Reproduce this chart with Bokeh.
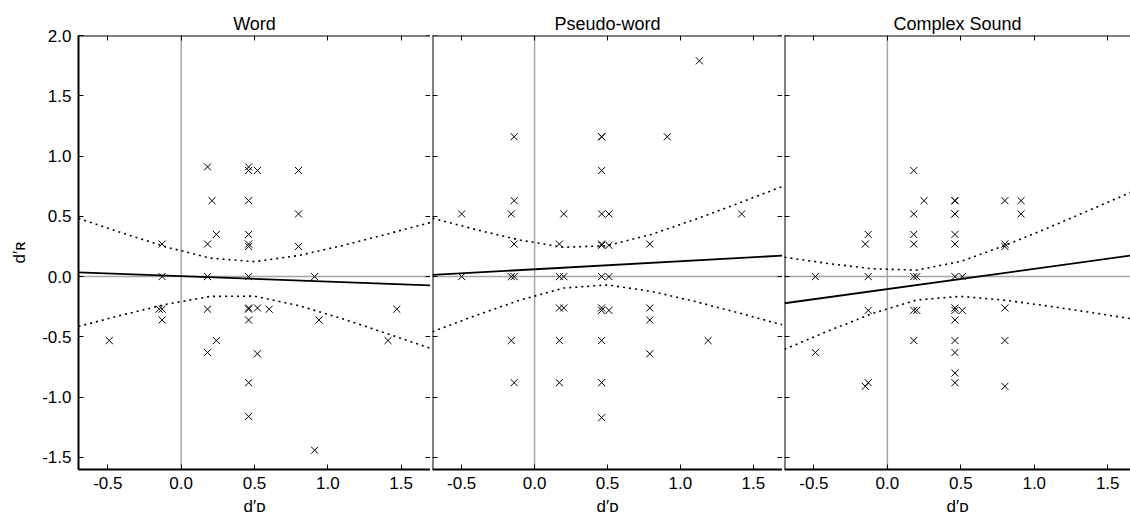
from bokeh.plotting import figure
from bokeh.models import LinearAxis, FixedTicker, NumeralTickFormatter, Span, Range1d, Title
from bokeh.layouts import row
from bokeh.embed import file_html
from bokeh.resources import INLINE

# ---------------- data ----------------
titles = ["Word", "Pseudo-word", "Complex Sound"]
x_ticks = [-0.5, 0.0, 0.5, 1.0, 1.5]
y_ticks = [-1.5, -1.0, -0.5, 0.0, 0.5, 1.0, 1.5, 2.0]

word_x = [0.18, 0.46, 0.46, 0.52, 0.80, 0.21, 0.46, 0.80, 0.24, 0.46,
          -0.13, 0.18, 0.46, 0.46, 0.80, -0.13, 0.18, 0.46, 0.91, -0.13,
          -0.15, -0.13, 0.18, 0.46, 0.46, 0.52, 0.60, 0.46, 0.94, 1.47,
          -0.49, 0.24, 1.41, 0.18, 0.52, 0.46, 0.46, 0.91]
word_y = [0.91, 0.91, 0.88, 0.88, 0.88, 0.63, 0.63, 0.52, 0.35, 0.35,
          0.27, 0.27, 0.27, 0.25, 0.25, 0.00, 0.00, 0.00, 0.00, -0.27,
          -0.27, -0.36, -0.27, -0.26, -0.27, -0.26, -0.27, -0.36, -0.36, -0.27,
          -0.53, -0.53, -0.53, -0.63, -0.64, -0.88, -1.16, -1.44]

pseudo_x = [1.13, -0.14, 0.46, 0.46, 0.91, 0.46, -0.14, -0.50, -0.16, 0.20,
            0.46, 0.51, 1.42, -0.14, 0.17, 0.46, 0.46, 0.51, 0.79, -0.50,
            -0.16, -0.14, 0.17, 0.20, 0.46, 0.51, 0.17, 0.20, 0.46, 0.46,
            0.51, 0.79, 0.79, -0.16, 0.17, 0.46, 1.19, 0.79, -0.14, 0.17,
            0.46, 0.46]
pseudo_y = [1.79, 1.16, 1.16, 1.16, 1.16, 0.88, 0.63, 0.52, 0.52, 0.52,
            0.52, 0.52, 0.52, 0.27, 0.27, 0.27, 0.26, 0.26, 0.27, 0.00,
            0.00, 0.00, 0.00, 0.00, 0.00, 0.00, -0.26, -0.26, -0.26, -0.28,
            -0.28, -0.26, -0.36, -0.53, -0.53, -0.53, -0.53, -0.64, -0.88, -0.88,
            -0.88, -1.17]

complex_x = [0.18, 0.25, 0.46, 0.46, 0.80, 0.91, 0.18, 0.46, 0.46, 0.91,
             -0.13, -0.15, 0.18, 0.18, 0.46, 0.46, 0.80, 0.80, -0.49, -0.13,
             0.18, 0.20, 0.46, 0.51, -0.13, 0.18, 0.20, 0.46, 0.46, 0.51,
             0.46, 0.80, 0.18, 0.46, 0.80, -0.49, 0.46, 0.46, 0.46, -0.15,
             -0.13, 0.80]
complex_y = [0.88, 0.63, 0.63, 0.63, 0.63, 0.63, 0.52, 0.52, 0.52, 0.52,
             0.35, 0.27, 0.35, 0.27, 0.35, 0.27, 0.27, 0.25, 0.00, 0.00,
             0.00, 0.00, 0.00, 0.00, -0.28, -0.28, -0.28, -0.26, -0.28, -0.28,
             -0.36, -0.26, -0.53, -0.53, -0.53, -0.63, -0.63, -0.80, -0.88, -0.91,
             -0.88, -0.91]

fit_x = [-0.7, 1.7]
word_fit = [0.035, -0.073]
pseudo_fit = [0.014, 0.174]
complex_fit = [-0.221, 0.182]

band_x = [-0.7, -0.4, -0.1, 0.2, 0.5, 0.8, 1.1, 1.4, 1.7]
word_upper = [0.483, 0.361, 0.245, 0.153, 0.124, 0.175, 0.258, 0.352, 0.449]
word_lower = [-0.413, -0.318, -0.229, -0.164, -0.162, -0.240, -0.350, -0.471, -0.595]
pseudo_upper = [0.485, 0.389, 0.303, 0.243, 0.257, 0.350, 0.474, 0.609, 0.748]
pseudo_lower = [-0.457, -0.321, -0.195, -0.095, -0.069, -0.122, -0.206, -0.301, -0.400]
complex_upper = [0.161, 0.108, 0.065, 0.054, 0.126, 0.258, 0.407, 0.564, 0.721]
complex_lower = [-0.603, -0.450, -0.305, -0.194, -0.164, -0.196, -0.245, -0.300, -0.357]

# axis labels: d' with a small-capital subscript letter
x_label = "d\u2032\u1d05"   # d'_D
y_label = "d\u2032\u0280"   # d'_R

# ---------------- styling / geometry ----------------
FONT = "Liberation Sans"
TICK_FS = "17px"
FRAME_W = 2
GRAY = "#a6a6a6"
X0, X1, Y0, Y1 = -0.7, 1.7, -1.6, 2.0
X3_END = 1.655
FRAME_H = 434
TOP = 35
BOTTOM = 40
LEFT_BORDERS = [78, 2, 2]
FRAME_WS = [352, 350, 346]
X_ENDS = [X1, X1, X3_END]


def style_axis(ax, show_labels, show_line=True):
    ax.major_tick_in = 5
    ax.major_tick_out = 0
    ax.minor_tick_line_color = None
    ax.major_tick_line_color = "black"
    ax.major_tick_line_width = 1
    ax.axis_line_color = "black" if show_line else None
    ax.axis_line_width = FRAME_W
    if show_labels:
        ax.major_label_text_font = FONT
        ax.major_label_text_font_size = TICK_FS
        ax.major_label_text_color = "black"
        ax.major_label_standoff = 7
        ax.formatter = NumeralTickFormatter(format="0.0")
    else:
        ax.major_label_text_font_size = "0px"
        ax.major_label_text_color = None
        ax.major_label_standoff = 0


def style_axis_label(ax, text, size, standoff):
    ax.axis_label = text
    ax.axis_label_text_font = FONT
    ax.axis_label_text_font_size = size
    ax.axis_label_text_font_style = "normal"
    ax.axis_label_text_color = "black"
    ax.axis_label_standoff = standoff


def panel(idx, xs, ys, fit, up, lo, title_offset):
    x_end = X_ENDS[idx]
    p = figure(frame_width=FRAME_WS[idx], frame_height=FRAME_H,
               x_range=Range1d(X0, x_end), y_range=Range1d(Y0, Y1),
               output_backend="svg", toolbar_location=None,
               min_border_left=LEFT_BORDERS[idx], min_border_right=0,
               min_border_top=TOP, min_border_bottom=BOTTOM)
    p.grid.visible = False
    p.outline_line_color = None

    p.title = Title(text=titles[idx], align="center", text_font=FONT,
                    text_font_size="18px", text_color="black",
                    text_font_style="normal", standoff=4, offset=title_offset)

    xa = p.xaxis[0]
    xa.ticker = FixedTicker(ticks=x_ticks)
    style_axis(xa, True)
    style_axis_label(xa, x_label, "17px", 5)

    ya = p.yaxis[0]
    ya.ticker = FixedTicker(ticks=y_ticks)
    if idx == 0:
        style_axis(ya, True)
        style_axis_label(ya, y_label, "17px", 10)
    else:
        ya.fixed_location = X0
        style_axis(ya, False)

    top = LinearAxis(fixed_location=Y1, ticker=FixedTicker(ticks=x_ticks))
    style_axis(top, False)
    p.add_layout(top, "above")

    if idx < 2:
        ra = LinearAxis(fixed_location=x_end, ticker=FixedTicker(ticks=y_ticks))
        style_axis(ra, False, show_line=False)
        p.add_layout(ra, "right")

    p.add_layout(Span(location=0, dimension="height", line_color=GRAY, line_width=1.5, level="underlay"))
    p.add_layout(Span(location=0, dimension="width", line_color=GRAY, line_width=1.5, level="underlay"))

    p.line(band_x, up, line_color="black", line_width=1.6, line_dash="2 4")
    p.line(band_x, lo, line_color="black", line_width=1.6, line_dash="2 4")
    p.line(fit_x, fit, line_color="black", line_width=1.8)
    p.scatter(xs, ys, marker="x", size=10, line_color="black", line_width=1)
    return p


p1 = panel(0, word_x, word_y, word_fit, word_upper, word_lower, 0)
p2 = panel(1, pseudo_x, pseudo_y, pseudo_fit, pseudo_upper, pseudo_lower, 0)
p3 = panel(2, complex_x, complex_y, complex_fit, complex_upper, complex_lower, 3)

layout = row(p1, p2, p3, spacing=0)
open("out.html", "w").write(file_html(layout, INLINE))
